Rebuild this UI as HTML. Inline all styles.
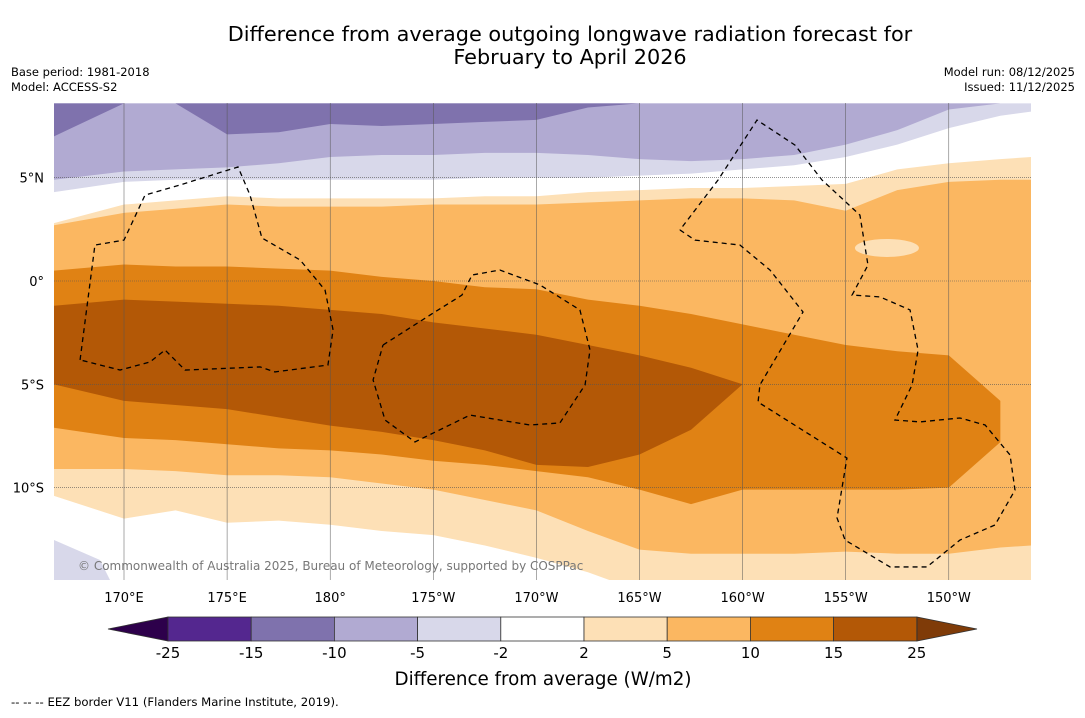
<!DOCTYPE html>
<html><head><meta charset="utf-8"><style>
body{margin:0;background:#fff;width:1085px;height:713px;overflow:hidden;font-family:"Liberation Sans","DejaVu Sans",sans-serif}
text{font-family:"DejaVu Sans","Liberation Sans",sans-serif}
</style></head><body>
<svg id="chart" width="1085" height="713" xmlns="http://www.w3.org/2000/svg">
<text x="570" y="41" font-size="20.8" text-anchor="middle">Difference from average outgoing longwave radiation forecast for</text>
<text x="570" y="64" font-size="20.8" text-anchor="middle">February to April 2026</text>
<text x="11" y="76" font-size="11.5">Base period: 1981-2018</text>
<text x="11" y="91" font-size="11.5">Model: ACCESS-S2</text>
<text x="1075" y="76" font-size="11.5" text-anchor="end">Model run: 08/12/2025</text>
<text x="1075" y="91" font-size="11.5" text-anchor="end">Issued: 11/12/2025</text>
<defs><clipPath id="mc"><rect x="54" y="103" width="977" height="477"/></clipPath></defs>
<g id="map" clip-path="url(#mc)"><rect x="54" y="103" width="977" height="477" fill="#fff"/></g>
<g id="axes"></g>
<g id="cbar"></g>
<text x="543" y="685" font-size="18.3" text-anchor="middle">Difference from average (W/m2)</text>
<text x="11" y="706" font-size="11.7">--  --  -- EEZ border V11 (Flanders Marine Institute, 2019).</text>
</svg>
<script>
const lons=[166.6,170,172.5,175,177.5,180,182.5,185,187.5,190,192.5,195,197.5,200,202.5,205,207.5,210,212.5,214];
const latTop=8.6, latBot=-15;
const lavender2Lower=[4.3,4.8,4.9,4.9,4.9,4.9,4.9,4.9,5.0,5.0,5.0,5.1,5.2,5.4,5.6,6.0,6.6,7.4,8.0,8.2];
const lavender5Lower=[4.9,5.3,5.4,5.5,5.7,6.0,6.1,6.1,6.2,6.2,6.1,5.9,5.8,5.9,6.1,6.6,7.3,8.3,8.6,8.6];
const purple10Lower=[7.0,8.6,8.6,7.1,7.2,7.6,7.5,7.6,7.7,7.8,8.4,8.6,8.6,8.6,8.6,8.6,8.6,8.6,8.6,8.6];
const peachUpper=[2.8,3.7,3.9,4.1,4.0,4.0,4.0,4.0,4.1,4.1,4.3,4.4,4.5,4.5,4.6,4.7,5.4,5.7,5.9,6.0];
const peachLower=[-10.4,-11.5,-11.1,-11.7,-11.6,-11.8,-12.1,-12.3,-12.8,-13.4,-14.1,-15,-15,-15,-15,-15,-15,-15,-15,-15];
const orange5Upper=[2.7,3.3,3.5,3.7,3.6,3.6,3.6,3.7,3.7,3.7,3.8,3.9,4.0,4.0,3.9,3.4,4.4,4.8,4.9,4.9];
const orange5Lower=[-9.1,-9.1,-9.2,-9.4,-9.4,-9.5,-9.8,-10.1,-10.6,-11.1,-12.1,-13.0,-13.2,-13.2,-13.2,-13.1,-13.2,-13.2,-12.9,-12.8];
const orange10Upper=[0.5,0.8,0.7,0.7,0.6,0.5,0.2,0,-0.3,-0.4,-0.9,-1.2,-1.6,-2.1,-2.6,-3.1,-3.4,-3.6,-5.8,null];
const orange10Lower=[-7.1,-7.6,-7.7,-7.9,-8.1,-8.2,-8.4,-8.7,-8.9,-9.2,-9.5,-10.1,-10.8,-10.1,-10.1,-10.1,-10.1,-10.0,-7.8,null];
const brown15Upper=[-1.2,-0.9,-1.0,-1.1,-1.2,-1.4,-1.6,-2.0,-2.3,-2.6,-3.1,-3.6,-4.2,-5.0,null,null,null,null,null,null];
const brown15Lower=[-5.0,-5.8,-6.0,-6.2,-6.6,-7.0,-7.3,-7.7,-8.2,-8.9,-9.0,-8.4,-7.2,-5.0,null,null,null,null,null,null];
const eezWest=[[167.87,-3.82],[168.59,1.74],[170,1.98],[171.02,4.16],[172.72,4.65],[175.53,5.52],[176.11,4.16],[176.69,2.08],[178.54,1.02],[179.75,-0.44],[180.14,-2.37],[179.89,-4.07],[177.32,-4.40],[176.6,-4.16],[172.96,-4.31],[171.99,-3.34],[171.26,-3.92],[169.81,-4.31],[167.87,-3.82]];
const eezPhoenix=[[182.56,-3.10],[184.84,-1.65],[186.39,-0.68],[186.88,0.29],[188.23,0.53],[190.17,-0.19],[192.11,-1.40],[192.60,-3.34],[192.36,-5.03],[191.14,-6.87],[189.69,-6.97],[186.78,-6.49],[184.11,-7.79],[182.66,-6.73],[182.08,-4.79],[182.56,-3.10]];
const eezLine=[[196.96,2.47],[197.69,1.98],[199.87,1.74],[201.33,0.53],[202.93,-1.50],[200.84,-5.03],[200.75,-5.86],[205.06,-8.57],[204.58,-11.47],[204.97,-12.54],[207.15,-13.84],[208.94,-13.84],[210.54,-12.54],[212.24,-11.81],[213.21,-10.12],[212.97,-8.42],[211.76,-6.97],[210.54,-6.63],[208.60,-6.82],[207.39,-6.73],[208.22,-5.03],[208.51,-3.34],[208.12,-1.40],[206.66,-0.77],[205.31,-0.68],[206.08,0.77],[205.69,3.19],[203.85,4.89],[202.54,6.58],[200.70,7.79],[198.81,4.89],[196.96,2.47]];
const lonTicks=[170,175,180,185,190,195,200,205,210];
const lonLabels=["170°E","175°E","180°","175°W","170°W","165°W","160°W","155°W","150°W"];
const latTicks=[5,0,-5,-10];
const latLabels=["5°N","0°","5°S","10°S"];
const cbLevels=["-25","-15","-10","-5","-2","2","5","10","15","25"];
const cbColors=["#54278f","#7f72ad","#b1aad2","#d8d8ea","#ffffff","#fde0b6","#fbb761","#e08214","#b35806"];
const NS="http://www.w3.org/2000/svg";
const X=lon=>124+(lon-170)*20.62;
const Y=lat=>281-lat*20.66;
function mk(tag,attrs,parent){const e=document.createElementNS(NS,tag);for(const k in attrs)e.setAttribute(k,attrs[k]);parent.appendChild(e);return e;}
const map=document.getElementById('map');
function band(up,lo,color,name){
  const top=[],bot=[];
  lons.forEach((l,i)=>{const u=up===null?latTop:up[i],d=lo===null?latBot:lo[i];if(u===null||d===null)return;top.push(X(l)+','+Y(u));bot.unshift(X(l)+','+Y(d));});
  const p=mk('polygon',{points:top.concat(bot).join(' '),fill:color},map);
  
  
}
band(null,lavender2Lower,"#d8d8ea","band-minus2");
band(null,lavender5Lower,"#b1aad2","band-minus5");
band(null,purple10Lower,"#7f72ad","band-minus10");
band(peachUpper,peachLower,"#fde0b6","band-plus2");
band(orange5Upper,orange5Lower,"#fbb761","band-plus5");
band(orange10Upper,orange10Lower,"#e08214","band-plus10");
band(brown15Upper,brown15Lower,"#b35806","band-plus15");
const wb=mk('ellipse',{cx:X(207),cy:Y(1.6),rx:32,ry:9,fill:"#fde0b6"},map);


const lb=mk('polygon',{points:`54,540 100,560 110,580 54,580`,fill:"#d8d8ea"},map);


lonTicks.forEach(l=>{const g=mk('line',{x1:X(l),x2:X(l),y1:103,y2:580,stroke:"#555","stroke-width":0.5},map);});
latTicks.forEach(l=>{const g=mk('line',{x1:54,x2:1031,y1:Y(l),y2:Y(l),stroke:"#555","stroke-width":0.6,"stroke-dasharray":"1,1"},map);});
[eezWest,eezPhoenix,eezLine].forEach((pts,i)=>{const p=mk('polyline',{points:pts.map(q=>X(q[0])+','+Y(q[1])).join(' '),fill:"none",stroke:"#000","stroke-width":1.3,"stroke-dasharray":"5,4"},map);});
const cr=mk('text',{x:78,y:570,"font-size":12,fill:"#777"},map);cr.textContent="© Commonwealth of Australia 2025, Bureau of Meteorology, supported by COSPPac";


const ax=document.getElementById('axes');
lonTicks.forEach((l,i)=>{const t=mk('text',{x:X(l),y:602,"font-size":13,"text-anchor":"middle"},ax);t.textContent=lonLabels[i];});
latTicks.forEach((l,i)=>{const t=mk('text',{x:44,y:Y(l)+5,"font-size":13,"text-anchor":"end"},ax);t.textContent=latLabels[i];});
const cb=document.getElementById('cbar');
const cx0=168,cw=83.2,cy=617,ch=24;
const lt=mk('polygon',{points:`108,629 168,617 168,641`,fill:"#2d004b",stroke:"#333","stroke-width":0.8},cb);


const rt=mk('polygon',{points:`917,617 977,629 917,641`,fill:"#7f3b08",stroke:"#333","stroke-width":0.8},cb);


cbColors.forEach((c,i)=>{const r=mk('rect',{x:cx0+i*cw,y:cy,width:cw,height:ch,fill:c,stroke:"#333","stroke-width":0.8},cb);});
cbLevels.forEach((s,i)=>{const t=mk('text',{x:cx0+i*cw,y:658,"font-size":15,"text-anchor":"middle"},cb);t.textContent=s;});
</script>
</body></html>
